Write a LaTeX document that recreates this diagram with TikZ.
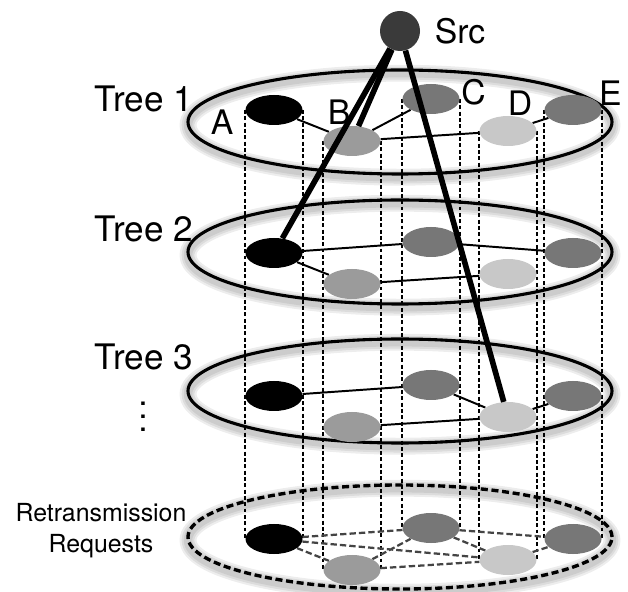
\documentclass[tikz,border=0pt]{standalone}
\usepackage{fontspec}
\setmainfont{TeX Gyre Heros}
\usetikzlibrary{shapes.geometric, backgrounds}
\definecolor{Ink}{HTML}{000000}
\definecolor{SrcGray}{HTML}{3A3A3A}
\definecolor{PeerDark}{HTML}{777777}
\definecolor{PeerMid}{HTML}{9B9B9B}
\definecolor{PeerLight}{HTML}{C8C8C8}
\definecolor{Link}{HTML}{444444}

\begin{document}
\begin{tikzpicture}[
  peer/.style={
    ellipse,
    minimum width=1.425cm,
    minimum height=0.75cm,
    inner sep=0pt
  },
  layer/.style={
    line width=2.2pt,
    draw=Ink
  },
  request/.style={
    line width=2.4pt,
    draw=Ink,
    dash pattern=on 5pt off 2.6pt
  },
  halo/.style={
    draw=black,
    opacity=0.07
  },
  treelink/.style={
    line width=1.4pt,
    draw=Ink
  },
  reqlink/.style={
    line width=1.6pt,
    draw=Link,
    dash pattern=on 4.5pt off 2.2pt
  },
  drop/.style={
    line width=1.5pt,
    draw=Ink,
    dash pattern=on 2.8pt off 1.7pt
  },
  stream/.style={
    line width=4pt,
    draw=Ink
  },
  tag/.style={
    font=\fontsize{24}{28}\selectfont,
    text=Ink,
    inner sep=0pt
  },
  treename/.style={
    font=\fontsize{25}{30}\selectfont,
    text=Ink,
    inner sep=0pt
  }
]

\useasboundingbox (0,0) rectangle (15.7,14.775);

% peers of every layer, same columns A..E
\foreach \lay/\ya in {t1/12.025, t2/8.45, t3/4.875, rq/1.3} {
  \node[peer, fill=Ink]       (\lay A) at (6.85,\ya) {};
  \node[peer, fill=PeerMid]   (\lay B) at (8.8,\ya-0.775) {};
  \node[peer, fill=PeerDark]  (\lay C) at (10.775,\ya+0.275) {};
  \node[peer, fill=PeerLight] (\lay D) at (12.7,\ya-0.525) {};
  \node[peer, fill=PeerDark]  (\lay E) at (14.325,\ya) {};
}

\begin{pgfonlayer}{background}
  \fill[white] (0,0) rectangle (15.7,14.775);

  % tree planes with a soft shadow round the rim
  \foreach \cy in {11.725, 8.475, 5.0, 1.35} {
    \foreach \w in {12,9,6}
      \draw[halo, line width=\w pt] (10,\cy-0.08) ellipse (5.3 and 1.3);
  }
  \foreach \cy in {11.725, 8.475, 5.0}
    \draw[layer] (10,\cy) ellipse (5.3 and 1.3);
  \draw[request] (10,1.35) ellipse (5.3 and 1.3);

  % same peer down through all planes
  \foreach \n in {A,B,C,D,E} {
    \draw[drop] (t1\n.west) -- (rq\n.west);
    \draw[drop] (t1\n.east) -- (rq\n.east);
  }

  \draw[treelink] (t1A) -- (t1B) (t1B) -- (t1C) (t1B) -- (t1D) (t1D) -- (t1E);
  \draw[treelink] (t2A) -- (t2C) (t2A) -- (t2B) (t2C) -- (t2E) (t2B) -- (t2D);
  \draw[treelink] (t3A) -- (t3C) (t3C) -- (t3D) (t3B) -- (t3D) (t3D) -- (t3E);
  \draw[reqlink] (rqA) -- (rqC) (rqA) -- (rqB) (rqA) -- (rqD) (rqB) -- (rqC)
    (rqB) -- (rqD) (rqC) -- (rqE) (rqC) -- (rqD) (rqD) -- (rqE);
\end{pgfonlayer}

\node[circle, fill=SrcGray, minimum size=1cm, inner sep=0pt] (src) at (10,14.0) {};
\node[tag] (srcname) at (11.5,13.99) {Src};

\draw[stream] (src) -- (t1B);
\draw[stream] (src) -- (t2A);
\draw[stream] (src) -- (t3D);

\node[tag] (nameA) at (5.55,11.71) {A};
\node[tag] (nameB) at (8.475,11.98) {B};
\node[tag] (nameC) at (11.84,12.46) {C};
\node[tag] (nameD) at (13.0,12.2) {D};
\node[tag] (nameE) at (15.26,12.45) {E};

\node[treename] (tree1) at (3.6,12.29) {Tree 1};
\node[treename] (tree2) at (3.6,9.06) {Tree 2};
\node[treename] (tree3) at (3.6,5.86) {Tree 3};
\node[align=center, font=\fontsize{24}{9.2}\selectfont, inner sep=0pt] (more)
  at (3.575,4.35) {.\\.\\.};

\node[align=center, font=\fontsize{17.7}{22}\selectfont, inner sep=0pt] (retx)
  at (2.525,1.5) {Retransmission\\Requests};

\end{tikzpicture}
\end{document}
